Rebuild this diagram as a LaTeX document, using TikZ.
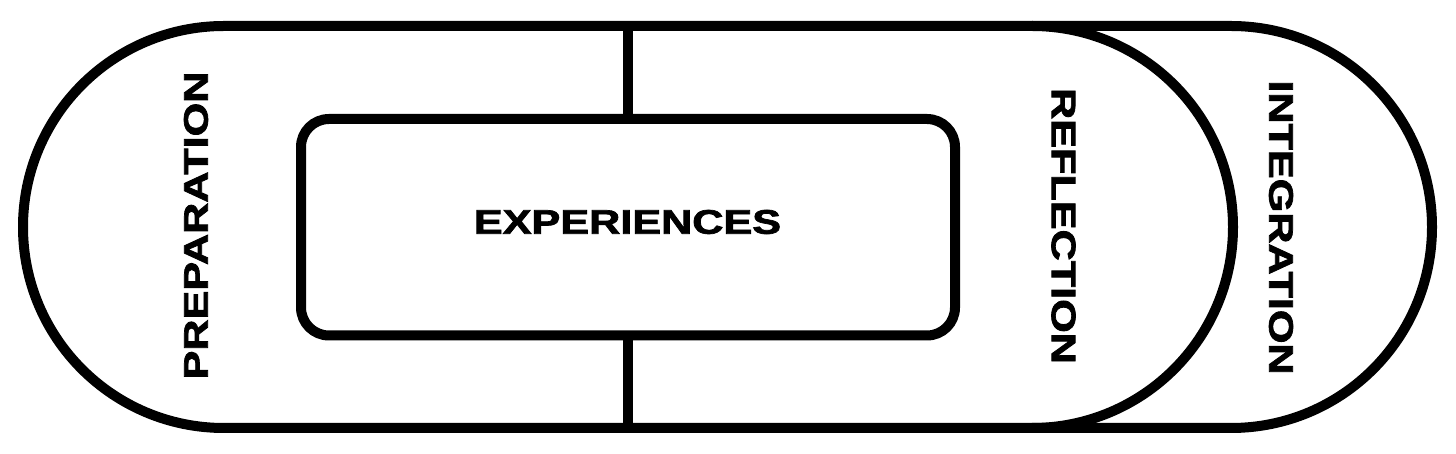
\documentclass[tikz,border=0pt]{standalone}
\usepackage{fontspec}
\setmainfont{Liberation Sans}[BoldFeatures={FakeBold=2}]
\tikzset{
  outline/.style={draw=black, line width=10pt, line join=round},
  lbl/.style={inner sep=0pt, font=\fontsize{34}{40}\selectfont\bfseries},
  expbox/.style={draw=black, fill=white, line width=10pt, rounded corners=28pt,
    minimum width=654pt, minimum height=216.5pt, inner sep=0pt, anchor=center},
}
\newcommand{\wide}[1]{\scalebox{1.27}[1]{#1}}
\begin{document}
\begin{tikzpicture}[x=1pt,y=1pt]
\useasboundingbox (0,0) rectangle (1456,454);
\fill[white] (0,0) rectangle (1456,454);
% outer stadium
\draw[outline] (224,428) -- (1231,428) arc (90:-90:201) -- (224,26) arc (270:90:201) -- cycle;
% inner right arc (reflection boundary)
\draw[outline] (1032,428) arc (90:-90:201);
% vertical divider
\coordinate (vtop) at (628,428);
\coordinate (vbot) at (628,26);
\node[expbox] (exp) at (628,226.75) {};
\draw[line width=10pt] (vtop) -- (exp.north);
\draw[line width=10pt] (exp.south) -- (vbot);
\node[lbl] (experiences) at (627.5,232) {\wide{EXPERIENCES}};
\node[lbl, rotate=90] (prep) at (196,228.5) {\wide{PREPARATION}};
\node[lbl, rotate=-90] (refl) at (1063.5,228) {\wide{REFLECTION}};
\node[lbl, rotate=-90] (integ) at (1281,226.5) {\wide{INTEGRATION}};
\end{tikzpicture}
\end{document}
